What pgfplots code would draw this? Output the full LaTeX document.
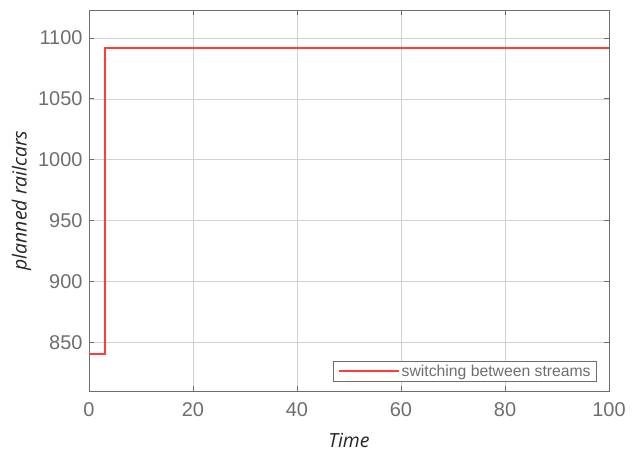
\documentclass[border=0pt]{standalone}
\usepackage{pgfplots}
\pgfplotsset{compat=1.18}
\usepackage{fontspec}
\setmainfont{Liberation Sans}
\newfontfamily\labelfont{Open Sans}
\definecolor{axgray}{RGB}{110,110,110}
\definecolor{gridgray}{RGB}{210,210,210}
\definecolor{linered}{RGB}{255,60,60}
\begin{document}
\begin{tikzpicture}
\begin{axis}[
  scale only axis,
  width=520bp, height=381bp,
  xmin=0, xmax=100, ymin=810, ymax=1123,
  xtick={0,20,...,100},
  ytick={850,900,...,1100},
  grid=major,
  major grid style={gridgray, line width=0.6bp},
  axis line style={axgray, line width=0.8bp},
  tick style={axgray, line width=0.8bp},
  tick align=inside,
  tickpos=both,
  major tick length=5bp,
  /pgf/number format/assume math mode=true,
  /pgf/number format/1000 sep={},
  ticklabel style={font=\fontsize{20}{24}\selectfont, text=axgray},
  xticklabel style={yshift=-8bp},
  yticklabel style={xshift=-3bp},
  xlabel={\labelfont\itshape Time},
  ylabel={\labelfont\itshape planned railcars},
  label style={font=\fontsize{19.5}{23}\selectfont, text=black!85},
  xlabel style={yshift=-10bp},
  ylabel style={yshift=0bp},
  legend style={font=\fontsize{15.8}{19}\selectfont, text=axgray, draw=axgray,
    line width=0.8bp, at={(0.977,0.023)}, anchor=south east,
    inner xsep=4bp, inner ysep=2bp},
  legend cell align=left,
  legend image code/.code={\draw[linered, line width=2bp] (0bp,0bp) -- (60bp,0bp);},
]
\addplot[draw=linered, line width=2bp, const plot] coordinates {
  (0,840) (3,1092) (100,1092)
};
\addlegendentry{switching between streams}
\end{axis}
\path (current axis.south west) ++(-89bp,-63bp) coordinate (bl);
\path (current axis.north east) ++(28bp,10bp) coordinate (tr);
\useasboundingbox (bl) rectangle (tr);
\end{tikzpicture}
\end{document}
